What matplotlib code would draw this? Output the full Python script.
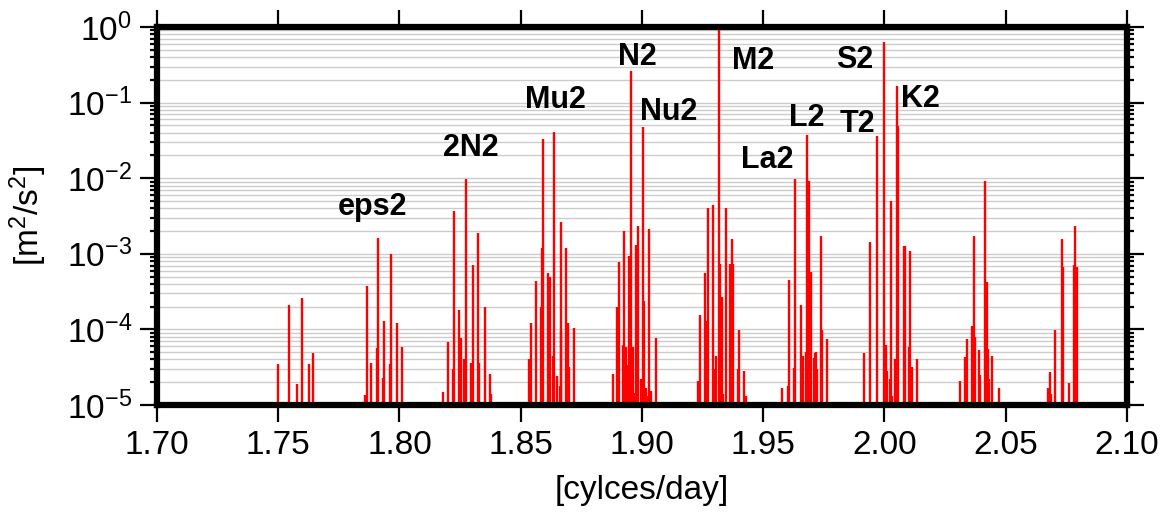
import matplotlib
matplotlib.use("Agg")
import matplotlib.pyplot as plt
from matplotlib.ticker import LogLocator, NullFormatter

plt.rcParams['font.family'] = ['Liberation Sans', 'DejaVu Sans']
plt.rcParams['mathtext.fontset'] = 'custom'
plt.rcParams['mathtext.rm'] = 'Liberation Sans'
plt.rcParams['mathtext.it'] = 'Liberation Sans:italic'
plt.rcParams['mathtext.bf'] = 'Liberation Sans:bold'

# tidal line frequencies [cycles/day] and amplitudes [m^2/s^2]
freq = [
    1.7500, 1.7545, 1.7576, 1.7596, 1.7625, 1.7645,
    1.7858, 1.7864, 1.7884, 1.7908, 1.7912, 1.7933, 1.7938, 1.7959, 1.7963, 1.7988, 1.8010,
    1.8178, 1.8198, 1.8219, 1.8226, 1.8247, 1.8253, 1.8267, 1.8274, 1.8296, 1.8302, 1.8324,
    1.8329, 1.8351, 1.8372, 1.8379,
    1.8533, 1.8543, 1.8563, 1.8583, 1.8588, 1.8591, 1.8612, 1.8620, 1.8632, 1.8639, 1.8648,
    1.8660, 1.8664, 1.8668, 1.8687, 1.8694, 1.8700, 1.8718,
    1.8879, 1.8898, 1.8904, 1.8923, 1.8927, 1.8933, 1.8941, 1.8948, 1.8955, 1.8962, 1.8972,
    1.8976, 1.8982, 1.8997, 1.9004, 1.9010, 1.9017, 1.9024, 1.9030, 1.9037, 1.9058,
    1.9233, 1.9238, 1.9260, 1.9264, 1.9271, 1.9292, 1.9296, 1.9307, 1.9318, 1.9322, 1.9328,
    1.9333, 1.9346, 1.9364, 1.9371, 1.9376, 1.9397, 1.9402, 1.9421, 1.9429,
    1.9576, 1.9602, 1.9606, 1.9625, 1.9633, 1.9656, 1.9662, 1.9676, 1.9682, 1.9689, 1.9695,
    1.9710, 1.9714, 1.9719, 1.9723, 1.9738, 1.9744, 1.9764,
    1.9917, 1.9942, 1.9970, 1.9997, 2.0005, 2.0009, 2.0021, 2.0025, 2.0030, 2.0045, 2.0051,
    2.0057, 2.0079, 2.0083, 2.0102, 2.0107, 2.0113, 2.0135,
    2.0311, 2.0334, 2.0340, 2.0361, 2.0368, 2.0373, 2.0388, 2.0395, 2.0413, 2.0422, 2.0427,
    2.0431, 2.0445, 2.0472,
    2.0674, 2.0681, 2.0686, 2.0704, 2.0731, 2.0735, 2.0759, 2.0781, 2.0786, 2.0792,
]
amp = [
    3.5e-5, 2.1e-4, 1.9e-5, 2.6e-4, 3.5e-5, 4.9e-5,
    1.35e-5, 3.7e-4, 3.6e-5, 5.6e-5, 1.6e-3, 2.3e-5, 1.3e-4, 3.5e-5, 9.8e-4, 1.2e-4, 5.9e-5,
    1.5e-5, 6.8e-5, 3.0e-5, 3.7e-3, 1.8e-4, 7.8e-5, 4.0e-5, 9.8e-3, 3.6e-5, 7.1e-4, 1.9e-3,
    3.6e-5, 2.0e-4, 2.6e-5, 1.4e-5,
    4.0e-5, 1.2e-4, 4.4e-4, 2.0e-4, 1.2e-3, 3.3e-2, 5.5e-4, 5.0e-4, 4.5e-5, 4.1e-2, 2.4e-5,
    1.8e-5, 9.5e-5, 2.6e-3, 1.2e-3, 1.2e-4, 3.2e-5, 1.05e-4,
    2.6e-5, 2.0e-4, 7.9e-4, 6.3e-5, 2.0e-3, 5.8e-5, 3.4e-5, 9.3e-4, 2.6e-1, 5.9e-5, 1.45e-5,
    1.3e-3, 2.3e-3, 2.2e-5, 4.8e-2, 2.4e-4, 1.7e-5, 1.3e-5, 2.1e-3, 1.55e-5, 7.6e-5,
    2.1e-5, 1.55e-4, 5.5e-4, 1.3e-4, 4.0e-3, 4.4e-3, 3.0e-5, 4.4e-5, 1.0e0, 7.4e-4, 2.7e-4,
    1.4e-5, 4.0e-3, 7.4e-4, 1.55e-3, 7.4e-4, 3.0e-5, 9.8e-5, 2.8e-5, 1.3e-5,
    1.7e-5, 1.8e-5, 4.5e-4, 3.1e-5, 9.8e-3, 2.1e-4, 4.5e-5, 5.1e-5, 3.7e-2, 9.1e-3, 5.75e-4,
    4.2e-5, 4.9e-5, 5.1e-5, 3.0e-5, 1.7e-3, 9.8e-5, 7.4e-5,
    4.9e-5, 1.45e-3, 3.6e-2, 6.3e-1, 6.2e-5, 2.8e-5, 2.2e-5, 5.0e-3, 1.3e-5, 4.0e-5, 1.66e-1,
    4.9e-2, 1.26e-3, 1.26e-3, 5.9e-5, 1.1e-3, 3.2e-5, 4.0e-5,
    2.1e-5, 4.3e-5, 7.4e-5, 1.1e-4, 1.7e-3, 7.9e-5, 5.4e-5, 2.5e-5, 9.1e-3, 4.3e-4, 5.5e-5,
    2.2e-5, 4.5e-5, 1.7e-5,
    1.7e-5, 2.75e-5, 1.4e-5, 9.8e-5, 1.55e-3, 6.6e-4, 1.95e-5, 7.2e-4, 2.3e-3, 6.6e-4,
]

# constituent names and where their labels sit
names = ['eps2', '2N2', 'Mu2', 'N2', 'Nu2', 'M2', 'La2', 'L2', 'T2', 'S2', 'K2']
name_x = [1.7890, 1.8293, 1.8645, 1.8980, 1.9110, 1.9460, 1.9517, 1.9680, 1.9888, 1.9876, 2.0150]
name_y = [4.2e-3, 2.5e-2, 1.07e-1, 4.0e-1, 7.4e-2, 3.6e-1, 1.74e-2, 6.3e-2, 5.2e-2, 3.7e-1, 1.12e-1]

xticks = [1.70, 1.75, 1.80, 1.85, 1.90, 1.95, 2.00, 2.05, 2.10]

fig = plt.figure(figsize=(11.68, 5.13), dpi=100)
ax = fig.add_axes([0.1344, 0.2105, 0.8305, 0.7369])

ax.set_yscale('log')
ax.set_xlim(1.70, 2.10)
ax.set_ylim(1e-5, 1e0)

ax.yaxis.set_major_locator(LogLocator(base=10, numticks=10))
ax.yaxis.set_minor_locator(LogLocator(base=10, subs=range(2, 10), numticks=10))
ax.yaxis.set_minor_formatter(NullFormatter())
ax.grid(True, which='both', axis='y', color='#cccccc', lw=1.0)
ax.set_axisbelow(True)

ax.vlines(freq, 1e-5, amp, colors='red', lw=1.7, zorder=3)

for n, x, y in zip(names, name_x, name_y):
    ax.text(x, y, n, fontsize=22, fontweight='bold', ha='center', va='center', zorder=4)

ax.set_xticks(xticks)
ax.set_xticklabels(['%.2f' % t for t in xticks])

for s in ax.spines.values():
    s.set_linewidth(4.5)
    s.set_zorder(5)
ax.tick_params(axis='both', which='major', direction='out', length=12, width=1.6,
               labelsize=24, top=True, right=True, pad=6)
ax.tick_params(axis='y', which='minor', direction='out', length=5, width=1.6, right=True)
ax.tick_params(axis='x', which='minor', bottom=False, top=False)

ax.set_xlabel('[cylces/day]', fontsize=24, labelpad=10)
ax.set_ylabel('[m$^2$/s$^2$]', fontsize=24, labelpad=13)

fig.savefig('out.png', dpi=100)
